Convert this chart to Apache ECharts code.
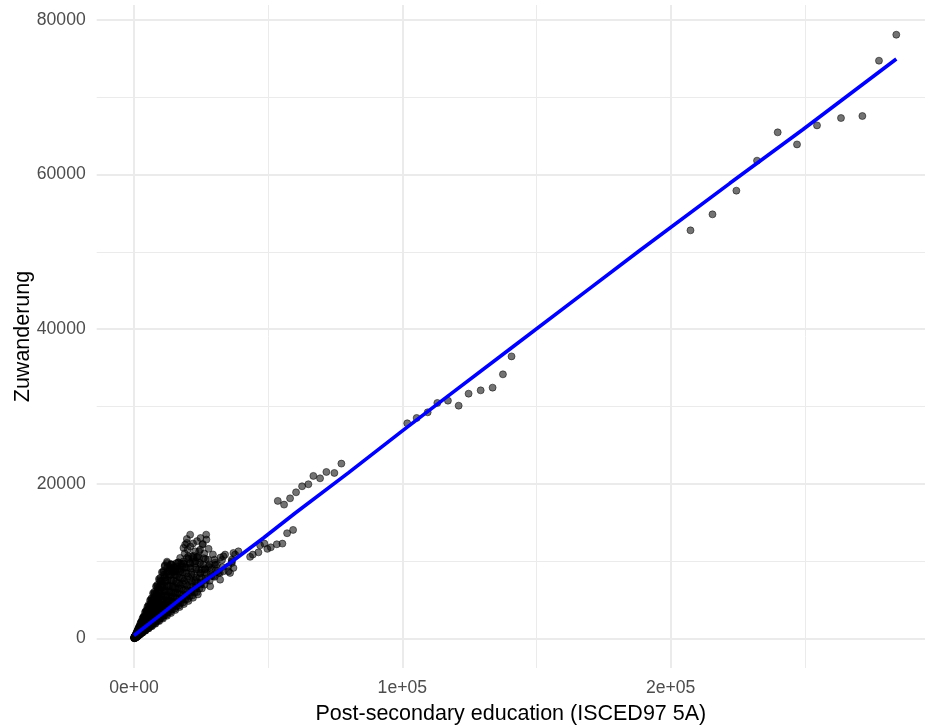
<!DOCTYPE html>
<html>
<head>
<meta charset="utf-8">
<script src="https://cdn.jsdelivr.net/npm/echarts@6/dist/echarts.min.js"></script>
<style>
html, body { margin: 0; padding: 0; background: #ffffff; }
#chart { width: 925px; height: 727px; }
</style>
</head>
<body>
<div id="chart"></div>
<script>
// Axis ticks and labels
const xMajorTicks = [0, 100000, 200000];
const xMajorLabels = ['0e+00', '1e+05', '2e+05'];
const xMinorTicks = [50000, 150000, 250000];
const yMajorTicks = [0, 20000, 40000, 60000, 80000];
const yMinorTicks = [10000, 30000, 50000, 70000];

// Observations: [post-secondary education, Zuwanderung]
const nearOrigin = [
  [0,80],[60,150],[120,40],[180,110],[240,200],[150,260],[300,60],[350,180],[420,320],[480,140],
  [550,230],[620,400],[700,120],[780,300],[850,560],[920,190],[1000,380],[1080,700],[1150,250],[1250,480],
  [1350,900],[1450,330],[1550,620],[1700,1000],[1800,420],[1950,800],[2100,1350],[2250,560],[2400,980],[2600,1500],
  [2750,700],[2900,1200]
];
const steepRun = [
  [300,250],[900,740],[1600,1320],[2400,1990],[3200,2650],[4100,3400],[5000,4120],[6000,4950],[7100,5870],[8200,6760],
  [9300,7700],[10400,8580],[11500,9480],[12300,9950],
  [700,560],[1400,1120],[2000,1620],[2800,2250],[3650,2900],[4550,3650],[5500,4400],[6500,5200],[7600,6050],[8700,6950],
  [9800,7850],[11000,8750],
  [450,340],[1150,930],[1900,1480],[2650,2110],[3500,2740],[4400,3500],[5300,4160],[6300,5010],[7400,5800],[8500,6750],
  [9600,7550],[10800,8560],
  [600,440],[1300,970],[2100,1550],[2900,2160],[3800,2810],[4700,3490],[5700,4210],[6700,4970],[7800,5760],[8900,6590],
  [10000,7410],[11200,8280],[12400,9170],[13700,9600],
  [150,110],[550,390],[1200,840],[1950,1370],[2700,1890],[3550,2480],[4450,3120],[5400,3790],[6400,4490],[7450,5210],
  [8550,5990],[9700,6790],[10800,7560],[12000,8400],[13200,9250],
  [250,180],[850,580],[1500,1050],[2300,1570],[3100,2160],[4000,2740],[4900,3400],[5900,4060],[6900,4780],[8000,5500],
  [9100,6300],[10200,7020],[11400,7880],[12600,8680],[13900,9570],
  [400,260],[1000,650],[1700,1110],[2500,1630],[3300,2140],[4200,2730],[5100,3320],[6100,3960],[7100,4620],[8200,5330],
  [9300,6040],[10400,6760],[11600,7540],[12800,8320],[14000,9100],[15300,8700],
  [200,130],[700,430],[1350,840],[2150,1330],[2950,1830],[3750,2330],[4600,2850],[5500,3410],[6400,3970],[7350,4560],
  [8400,5210],[9500,5890],[10700,6630],[11900,7380],[13100,8120],[14400,8930],[15700,9730]
];
const middleRun = [
  [350,220],[950,570],[1650,990],[2400,1450],[3200,1910],[4000,2420],[4900,2930],[5800,3500],[6800,4070],[7900,4760],
  [9000,5390],[10100,6080],[11300,6770],[12500,7520],[13800,8260],[15100,9080],[16400,9830],
  [150,80],[800,420],[1450,770],[2200,1170],[3000,1590],[3900,2070],[4850,2570],[5850,3100],[6850,3630],[7950,4210],
  [9100,4820],[10300,5460],[11500,6100],[12800,6780],[14100,7470],[15500,8210],[16900,8960],[18300,9700],[19700,10440],
  [500,270],[1200,670],[2000,1090],[2800,1550],[3700,2030],[4600,2530],[5600,3080],[6600,3630],[7700,4240],[8800,4840],
  [10000,5500],[11200,6160],[12400,6820],[13700,7540],[15000,8250],[16300,8960],[17600,9700],
  [300,150],[1000,520],[1750,880],[2550,1310],[3400,1720],[4300,2200],[5300,2690],[6300,3220],[7400,3760],[8500,4350],
  [9700,4930],[10900,5570],[12100,6160],[13400,6840],[14700,7490],[16000,8170],[17400,8860],[18800,9600],[20200,10300],
  [700,330],[1500,710],[2300,1080],[3200,1500],[4100,1930],[5100,2400],[6100,2870],[7200,3380],[8300,3900],
  [9400,4420],[10600,4980],[11800,5550],[13000,6110],[14300,6720],[15600,7330],[16900,7940],[18200,8550],[19500,9170],
  [20800,9780],[22200,10430],
  [250,110],[900,400],[1700,770],[2500,1130],[3400,1530],[4350,1960],[5300,2390],[6300,2840],[7350,3310],[8450,3800],
  [9600,4320],[10800,4860],[12000,5400],[13300,5990],[14600,6570],[16000,7200],[17400,7830],[18900,8510],[20400,9180],
  [21900,9860],[23400,10530],
  [600,250],[1300,570],[2100,900],[2950,1270],[3850,1650],[4800,2070],[5800,2490],[6800,2930],[7900,3390],[9000,3880],
  [10200,4380],[11400,4900],[12700,5460],[14000,6030],[15300,6580],[16700,7180],[18100,7780],[19600,8430],[21100,9070],
  [22600,9720],[24200,10400],
  [1100,440],[1900,760],[2700,1080],[3600,1440],[4500,1800],[5500,2200],[6500,2600],[7600,3040],[8700,3480],
  [9800,3920],[11000,4400],[12200,4880],[13400,5360],[14700,5880],[16000,6400],[17300,6920],[18700,7480],[20100,8040],
  [21500,8600],[23000,9200],[24500,9800],[26000,10400],
  [300,115],[1000,385],[1750,670],[2600,1000],[3500,1350],[4450,1710],[5450,2100],[6500,2500],[7600,2930],[8800,3390],
  [10000,3850],[11300,4350],[12600,4850],[13900,5350],[15300,5890],[16800,6470],[18300,7050],[19900,7660],[21500,8280],
  [23200,8930],[24900,9590],[26700,10280]
];
const flatRun = [
  [450,160],[1200,440],[2000,740],[2900,1070],[3850,1420],[4850,1790],[5900,2180],[7000,2590],[8200,3030],[9400,3480],
  [10700,3960],[12000,4440],[13300,4920],[14700,5440],[16100,5960],[17600,6510],[19200,7100],[20800,7700],[22400,8290],
  [24100,8920],[25800,9550],[27600,10200],[29400,10880],
  [800,270],[1600,540],[2500,850],[3400,1160],[4400,1500],[5400,1840],[6500,2210],[7600,2580],[8800,2990],[10000,3400],
  [11300,3840],[12600,4280],[14000,4760],[15400,5240],[16900,5750],[18400,6260],[20000,6800],[21600,7340],[23200,7890],
  [24800,8430],[26500,9010],[28200,9590],[30000,10200],
  [500,160],[1300,420],[2200,720],[3100,1010],[4100,1330],[5200,1690],[6300,2050],[7500,2440],[8700,2830],[10000,3250],
  [11400,3710],[12800,4160],[14300,4650],[15900,5170],[17500,5690],[19200,6240],[20900,6790],[22700,7380],[24500,7960],
  [26400,8580],[28300,9200],[30200,9820],[32200,10470],
  [900,280],[1800,560],[2800,870],[3800,1180],[4900,1520],[6000,1860],[7100,2200],[8300,2570],[9600,2980],[10900,3380],
  [12300,3810],[13700,4250],[15200,4710],[16800,5210],[18400,5700],[20100,6230],[21800,6760],[23500,7290],[25300,7840],
  [27100,8400],[29000,8990],[30900,9580],[32800,10170],
  [400,110],[1200,340],[2100,590],[3100,870],[4100,1150],[5200,1460],[6300,1760],[7500,2100],[8800,2460],[10100,2830],
  [11500,3220],[13000,3640],[14500,4060],[16100,4510],[17800,4980],[19500,5460],[21300,5960],[23100,6470],[25000,7000],
  [26900,7530],[28900,8090],[30900,8650],[33000,9240],
  [1400,400],[2300,670],[3300,960],[4300,1250],[5400,1570],[6500,1890],[7700,2230],[9000,2610],[10300,2990],
  [11700,3390],[13100,3800],[14600,4230],[16200,4700],[17800,5160],[19500,5660],[21200,6150],[23000,6670],[24800,7190],
  [26700,7740],[28600,8290],[30500,8850],
  [700,190],[1700,450],[2700,720],[3700,980],[4800,1270],[6000,1590],[7200,1910],[8500,2250],[9800,2600],[11200,2970],
  [12700,3370],[14200,3760],[15800,4190],[17400,4610],[19100,5060],[20800,5510],[22600,5990],[24400,6470],[26300,6970],
  [28200,7470],[30100,7980],[32000,8480],
  [1300,310],[2200,530],[3200,770],[4300,1030],[5500,1320],[6700,1610],[8000,1920],[9400,2260],[10800,2590],
  [12300,2950],[13800,3310],[15400,3700],[17000,4080],[18600,4460],[20300,4870],[22000,5280],[23800,5710],
  [900,230],[1900,480],[2950,760],[4000,1030],[5200,1330],[6400,1640],[7700,1970],[9100,2330],[10500,2690],[12000,3070],
  [13500,3460],[15100,3870],[16700,4270],[18300,4680],[20000,5120],[21700,5560],[23500,6010],[25300,6480]
];
const upperFan = [
  [12340,9780],[11460,9340],[13480,8920],[15340,8700],[17200,8700],[16590,9860],[18450,9990],[20310,10640],[22170,10710],
  [24280,11280],[25510,12150],[19070,12150],[19690,12880],[20930,13440],[26900,13440],[17200,10430],[18430,11720],
  [19690,12370],[25660,12240],[24650,11500],[22790,11280],[21560,10640],[17840,9340],[15000,9200],[14000,9600],
  [21000,11900],[23500,12600],[22000,12300],[20000,11500],[18900,11000],[23800,10600],[26200,11000],[27800,11600],
  [16000,9300],[14500,8600],[19000,9200],[21000,9700],[23000,10000],[27000,12800],[24800,13000]
];
const rightBranch = [
  [33960,10860],[37060,11070],[30240,9560],[27750,9340],[26510,8920],[24650,8490],[22790,7620],[31470,8490],[35190,8700],
  [36460,9780],[33330,10640],[29600,8050],[25290,8920],[35190,9340],[36460,9990],[38920,11280],[37060,9140],[36460,10210],
  [37690,10860],[33330,8700],[35820,8490],[32100,7620],[28380,6760]
];
const lowerMid = [
  [43280,10570],[44280,10860],[46370,11150],[47000,12060],[48600,12280],[49700,11600],[50980,11800],[53220,12190],
  [55310,12280],[57060,13620],[59290,14050]
];
const upperMid = [
  [53590,17800],[55930,17320],[58170,18130],[60400,18910],[62640,19690],[64990,19950],[66850,21030],[69350,20720],
  [71700,21540],[74680,21410],[77290,22620]
];
const highGroup = [
  [101850,27830],[105350,28520],[109450,29250],[113050,30460],[117000,30760],[121000,30110],[124700,31660],[129200,32090],
  [133650,32440],[137500,34160],[140700,36480]
];
const topGroup = [
  [207400,52770],[215600,54840],[224500,57900],[232200,61780],[239900,65440],[247100,63880],[254550,66340],[263490,67290],
  [271460,67550],[277650,74700],[284100,78060]
];

// Smoothed trend (loess fit)
const trendLine = [
  [0,400],[10000,3100],[21560,6300],[35820,9780],[48230,13000],[60000,16200],[80000,21450],[99760,26790],[115260,30890],
  [140000,37400],[170000,45300],[188600,50200],[222050,58850],[249300,65800],[284100,74920]
];

const points = [].concat(nearOrigin, steepRun, middleRun, flatRun, upperFan, rightBranch, lowerMid, upperMid, highGroup, topGroup);

const FONT = '"Liberation Sans", Arial, sans-serif';
const X_MIN = -13900, X_MAX = 294800;
const Y_MIN = -3800, Y_MAX = 81900;
const GRID_COLOR = '#EBEBEB';

const chart = echarts.init(document.getElementById('chart'), null, { renderer: 'canvas' });

chart.setOption({
  animation: false,
  backgroundColor: '#ffffff',
  grid: { left: 96.7, right: 0, top: 5, bottom: 59, containLabel: false, outerBoundsMode: 'none' },
  xAxis: [
    {
      type: 'value', min: X_MIN, max: X_MAX,
      axisLine: { show: false },
      axisTick: { show: false, customValues: xMajorTicks },
      axisLabel: {
        customValues: xMajorTicks,
        formatter: v => xMajorLabels[xMajorTicks.indexOf(v)] ?? '',
        color: '#4D4D4D', fontSize: 17.6, fontFamily: FONT, margin: 11
      },
      splitLine: { show: true, lineStyle: { color: GRID_COLOR, width: 2 } },
      name: 'Post-secondary education (ISCED97 5A)',
      nameLocation: 'middle', nameGap: 35, nameMoveOverlap: false,
      nameTextStyle: { color: '#000000', fontSize: 21.5, fontFamily: FONT }
    },
    {
      type: 'value', min: X_MIN, max: X_MAX, position: 'bottom',
      axisLine: { show: false },
      axisTick: { show: false, customValues: xMinorTicks },
      axisLabel: { show: false },
      splitLine: { show: true, lineStyle: { color: GRID_COLOR, width: 1 } }
    }
  ],
  yAxis: [
    {
      type: 'value', min: Y_MIN, max: Y_MAX,
      axisLine: { show: false },
      axisTick: { show: false, customValues: yMajorTicks },
      axisLabel: {
        customValues: yMajorTicks,
        formatter: v => String(v),
        color: '#4D4D4D', fontSize: 17.6, fontFamily: FONT, margin: 11
      },
      splitLine: { show: true, lineStyle: { color: GRID_COLOR, width: 2 } },
      name: 'Zuwanderung',
      nameLocation: 'middle', nameGap: 63, nameMoveOverlap: false,
      nameTextStyle: { color: '#000000', fontSize: 21.5, fontFamily: FONT }
    },
    {
      type: 'value', min: Y_MIN, max: Y_MAX, position: 'left',
      axisLine: { show: false },
      axisTick: { show: false, customValues: yMinorTicks },
      axisLabel: { show: false },
      splitLine: { show: true, lineStyle: { color: GRID_COLOR, width: 1 } }
    }
  ],
  series: [
    {
      type: 'scatter',
      xAxisIndex: 0, yAxisIndex: 0,
      data: points,
      symbol: 'circle', symbolSize: 7,
      itemStyle: { color: 'rgba(0,0,0,0.55)', borderColor: 'rgba(0,0,0,0.5)', borderWidth: 1, opacity: 1 },
      emphasis: { disabled: true },
      z: 2
    },
    {
      type: 'line',
      xAxisIndex: 0, yAxisIndex: 0,
      data: trendLine,
      smooth: false,
      showSymbol: false,
      lineStyle: { color: '#0000FF', width: 3.6 },
      emphasis: { disabled: true },
      z: 3
    }
  ]
});
</script>
</body>
</html>
